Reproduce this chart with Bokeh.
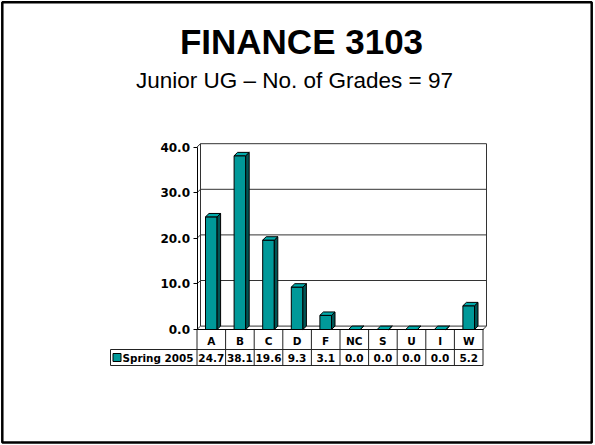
from bokeh.plotting import figure
from bokeh.models import Range1d, LinearAxis, FixedTicker, PrintfTickFormatter
from bokeh.core.properties import value
from bokeh.embed import file_html
from bokeh.resources import INLINE

# ---------------- data ----------------
title_text = "FINANCE 3103"
subtitle_text = "Junior UG \u2013 No. of Grades = 97"
series_name = "Spring 2005"
grades = ["A", "B", "C", "D", "F", "NC", "S", "U", "I", "W"]
percents = [24.7, 38.1, 19.6, 9.3, 3.1, 0.0, 0.0, 0.0, 0.0, 5.2]
y_ticks = [0, 10, 20, 30, 40]

# ---------------- geometry (page pixels) ----------------
W, H, OFF = 595, 445, 0
CX0, CW = 210.8, 28.6        # centre of first category, category width (px)
FLOOR, PPU = 329.0, 4.56     # y pixel of value 0, pixels per unit


def X(px):
    return (px - CX0) / CW


def Y(py):
    return (FLOOR - py) / PPU


DX, DY = 3.5 / CW, 3.4 / PPU     # 3-D depth
HW = 5.8 / CW                    # half bar width
FRONT = "#009999"
SIDE = "#005555"
TOP = "#00AAAA"
FONT = value("Liberation Sans")
BFONT = value("DejaVu Sans")

p = figure(width=W, height=H,
           x_range=Range1d(X(OFF), X(OFF + W)),
           y_range=Range1d(Y(OFF + H), Y(OFF)),
           x_axis_type=None, y_axis_type=None,
           toolbar_location=None, output_backend="svg", min_border=0)
p.outline_line_color = None
p.background_fill_color = "white"
p.border_fill_color = "white"

n = len(grades)
idx = list(range(n))
xl, xr = -0.5, n - 0.5
top_v = y_ticks[-1]

# slide border
p.quad(left=[X(1.8)], right=[X(591.2)], bottom=[Y(442.0)], top=[Y(1.8)],
       fill_color=None, line_color="black", line_width=2.5)

# back wall, side wall and floor outlines
wall_xs = [
    [xl + DX, xl + DX, xr + DX, xr + DX],          # back wall left/top/right
    [xl, xl + DX],                                  # top-left diagonal
    [xl, xl + DX, xr + DX, xr],                     # floor back edge
]
wall_ys = [
    [DY, top_v + DY, top_v + DY, DY],
    [top_v, top_v + DY],
    [0, DY, DY, 0],
]
for t in y_ticks[1:-1]:
    wall_xs.append([xl, xl + DX, xr + DX])
    wall_ys.append([t, t + DY, t + DY])
p.multi_line(xs=wall_xs, ys=wall_ys, line_color="#333333", line_width=1)

# bars (3-D columns)
sx, sy, tx, ty = [], [], [], []
for i, v in zip(idx, percents):
    sx.append([i + HW, i + HW + DX, i + HW + DX, i + HW])
    sy.append([0, DY, v + DY, v])
    tx.append([i - HW, i + HW, i + HW + DX, i - HW + DX])
    ty.append([v, v, v + DY, v + DY])
p.quad(left=[i - HW for i in idx], right=[i + HW for i in idx],
       bottom=[0] * n, top=percents, fill_color=FRONT, line_color="black", line_width=1)
p.patches(xs=sx, ys=sy, fill_color=SIDE, line_color="black", line_width=1)
p.patches(xs=tx, ys=ty, fill_color=TOP, line_color="black", line_width=1)

# data table
row1, row2 = Y(349), Y(365)
tab_xs = [[xl + k, xl + k] for k in range(n + 1)]
tab_ys = [[0, row2] for k in range(n + 1)]
tab_xs += [[X(110), xr], [X(110), xr], [X(110), X(110)]]
tab_ys += [[row1, row1], [row2, row2], [row1, row2]]
p.multi_line(xs=tab_xs, ys=tab_ys, line_color="#222222", line_width=1)

p.text(x=idx, y=[(row1 + row2) / 2] * n, text=[f"{v:.1f}" for v in percents],
       text_font=BFONT, text_font_style="bold", text_font_size="10.5px",
       text_align="center", text_baseline="middle", text_color="black")

p.scatter(x=[X(116.5)], y=[(row1 + row2) / 2], marker="square", size=8,
          fill_color=FRONT, line_color="black", line_width=1)
p.text(x=[X(122)], y=[(row1 + row2) / 2], text=[series_name],
       text_font=BFONT, text_font_style="bold", text_font_size="10.4px",
       text_align="left", text_baseline="middle", text_color="black")

# axes
yax = LinearAxis(fixed_location=xl, ticker=FixedTicker(ticks=y_ticks),
                 formatter=PrintfTickFormatter(format="%.1f"), bounds=(0, top_v))
yax.major_tick_in = 0
yax.major_tick_out = 4
yax.minor_tick_in = 0
yax.minor_tick_out = 0
yax.axis_line_color = "black"
yax.major_tick_line_color = "black"
yax.major_label_text_font = "DejaVu Sans"
yax.major_label_text_font_style = "bold"
yax.major_label_text_font_size = "12px"
yax.major_label_text_color = "black"
yax.major_label_standoff = 3
p.add_layout(yax, "left")

xax = LinearAxis(fixed_location=0, ticker=FixedTicker(ticks=idx),
                 major_label_overrides={i: g for i, g in zip(idx, grades)},
                 bounds=(xl, xr))
xax.major_tick_in = 0
xax.major_tick_out = 0
xax.minor_tick_in = 0
xax.minor_tick_out = 0
xax.axis_line_color = "black"
xax.major_label_text_font = "DejaVu Sans"
xax.major_label_text_font_style = "bold"
xax.major_label_text_font_size = "10.5px"
xax.major_label_text_color = "black"
xax.major_label_standoff = 5
p.add_layout(xax, "below")

# titles
p.text(x=[X(301)], y=[Y(41)], text=[title_text], text_font=FONT,
       text_font_style="bold", text_font_size="35px", text_align="center",
       text_baseline="middle", text_color="black")
p.text(x=[X(294)], y=[Y(79.5)], text=[subtitle_text], text_font=FONT,
       text_font_size="22.5px", text_align="center",
       text_baseline="middle", text_color="black")

open("out.html", "w").write(file_html(p, INLINE))
